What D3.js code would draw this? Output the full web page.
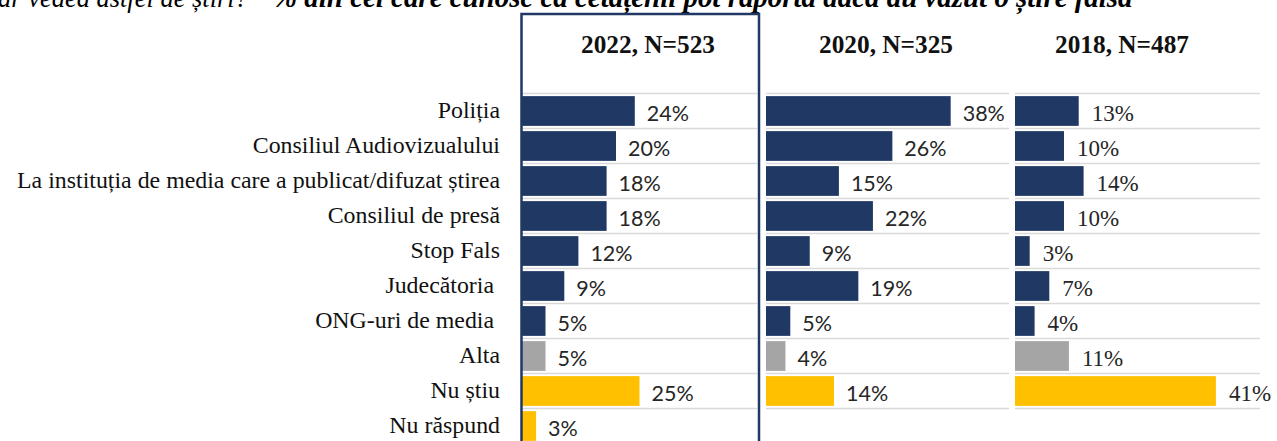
<!DOCTYPE html>
<html><head><meta charset="utf-8">
<script src="https://cdn.jsdelivr.net/npm/d3@7"></script>
<style>
html,body{margin:0;padding:0;background:#fff;overflow:hidden;}
svg{display:block;}
text{white-space:pre;}
</style></head>
<body>
<svg id="chart" width="1277" height="441"></svg>
<script>
// ---- data ----
const titleRegular = "ar vedea astfel de știri?";
const titleBold = "% din cei care cunosc că cetățenii pot raporta dacă au văzut o știre falsă";
const categories = ["Poliția","Consiliul Audiovizualului","La instituția de media care a publicat/difuzat știrea","Consiliul de presă","Stop Fals","Judecătoria ","ONG-uri de media ","Alta","Nu știu","Nu răspund"];
const categoryGroup = ["inst","inst","inst","inst","inst","inst","inst","other","dk","dk"];
const panelTitles = ["2022, N=523","2020, N=325","2018, N=487"];
const values2022 = [24,20,18,18,12,9,5,5,25,3];
const values2020 = [38,26,15,22,9,19,5,4,14,null];
const values2018 = [13,10,14,10,3,7,4,11,41,null];

// ---- layout / style ----
const svg = d3.select("#chart");
const groupColor = {inst:"#203864", other:"#a5a5a5", dk:"#ffc000"};
const panels = [
  {title:panelTitles[0], values:values2022, x0:522, x1:757, hx:648, labelFont:"Lato, 'Open Sans', sans-serif", labelSize:21.5, gap:12},
  {title:panelTitles[1], values:values2020, x0:766, x1:1009, hx:886, labelFont:"Lato, 'Open Sans', sans-serif", labelSize:21.5, gap:12},
  {title:panelTitles[2], values:values2018, x0:1015, x1:1260, hx:1122, labelFont:"'Liberation Serif', serif", labelSize:23, gap:13}
];
const serif = "'Liberation Serif', 'DejaVu Serif', serif";

const y = d3.scaleBand().domain(categories).range([93.5, 443.5]).paddingInner(0.15).paddingOuter(0.075);
const step = y.step();

function fitSize(sel, target) {
  const w = sel.node().getComputedTextLength();
  const fs = parseFloat(sel.attr("font-size"));
  return fs * target / w;
}

// title (cut at the top edge, as in the reference)
const tr = svg.append("text").attr("x", -2).attr("y", 7).attr("font-family", serif).attr("font-style","italic")
  .attr("font-size", 22).attr("fill","#000").text(titleRegular);
tr.attr("font-size", fitSize(tr, 250));
const tb = svg.append("text").attr("x", 273).attr("y", 7).attr("font-family", serif).attr("font-style","italic")
  .attr("font-weight","bold").attr("font-size", 22).attr("fill","#000").text(titleBold);
tb.attr("font-size", fitSize(tb, 860));

// category labels
const catG = svg.append("g");
const catTexts = catG.selectAll("text").data(categories).join("text")
  .attr("x", 500).attr("y", d => y(d) + y.bandwidth()/2 + 6.7)
  .attr("text-anchor","end").attr("font-family", serif).attr("font-size", 20)
  .attr("fill","#111").text(d => d);
{
  const longest = catTexts.filter((d,i) => i === 2);
  const fs = fitSize(longest, 483);
  catTexts.attr("font-size", fs);
}

// panels
panels.forEach(p => {
  const x = d3.scaleLinear().domain([0, 50]).range([p.x0, p.x1]);
  const g = svg.append("g");
  const rows = categories.map((c,i) => ({cat:c, v:p.values[i], grp:categoryGroup[i]})).filter(r => r.v !== null);
  const nGrid = rows.length + 1;
  const gridY = d3.range(nGrid).map(i => y.range()[0] + i*step);
  g.selectAll("line.grid").data(gridY).join("line").attr("class","grid")
    .attr("x1", x(0)).attr("x2", x(50)).attr("y1", d => d).attr("y2", d => d)
    .attr("stroke","#d9d9d9").attr("stroke-width",1.5);
  g.selectAll("rect.bar").data(rows).join("rect").attr("class","bar")
    .attr("x", x(0)).attr("y", d => y(d.cat)).attr("width", d => x(d.v) - x(0)).attr("height", y.bandwidth())
    .attr("fill", d => groupColor[d.grp]);
  g.selectAll("text.val").data(rows).join("text").attr("class","val")
    .attr("x", d => x(d.v) + p.gap).attr("y", d => y(d.cat) + y.bandwidth()/2 + 9.5)
    .attr("font-family", p.labelFont).attr("font-size", p.labelSize).attr("fill","#262626")
    .text(d => d.v + "%");
  const ht = g.append("text").attr("x", p.hx).attr("y", 53).attr("text-anchor","middle")
    .attr("font-family", serif).attr("font-weight","bold").attr("font-size", 22).attr("fill","#111")
    .text(p.title);
  ht.attr("font-size", fitSize(ht, 134));
});

// highlight frame around 2022
svg.append("rect").attr("x", 521.5).attr("y", 14).attr("width", 237.5).attr("height", 460)
  .attr("fill","none").attr("stroke","#203864").attr("stroke-width", 2.5);
</script>
</body></html>
